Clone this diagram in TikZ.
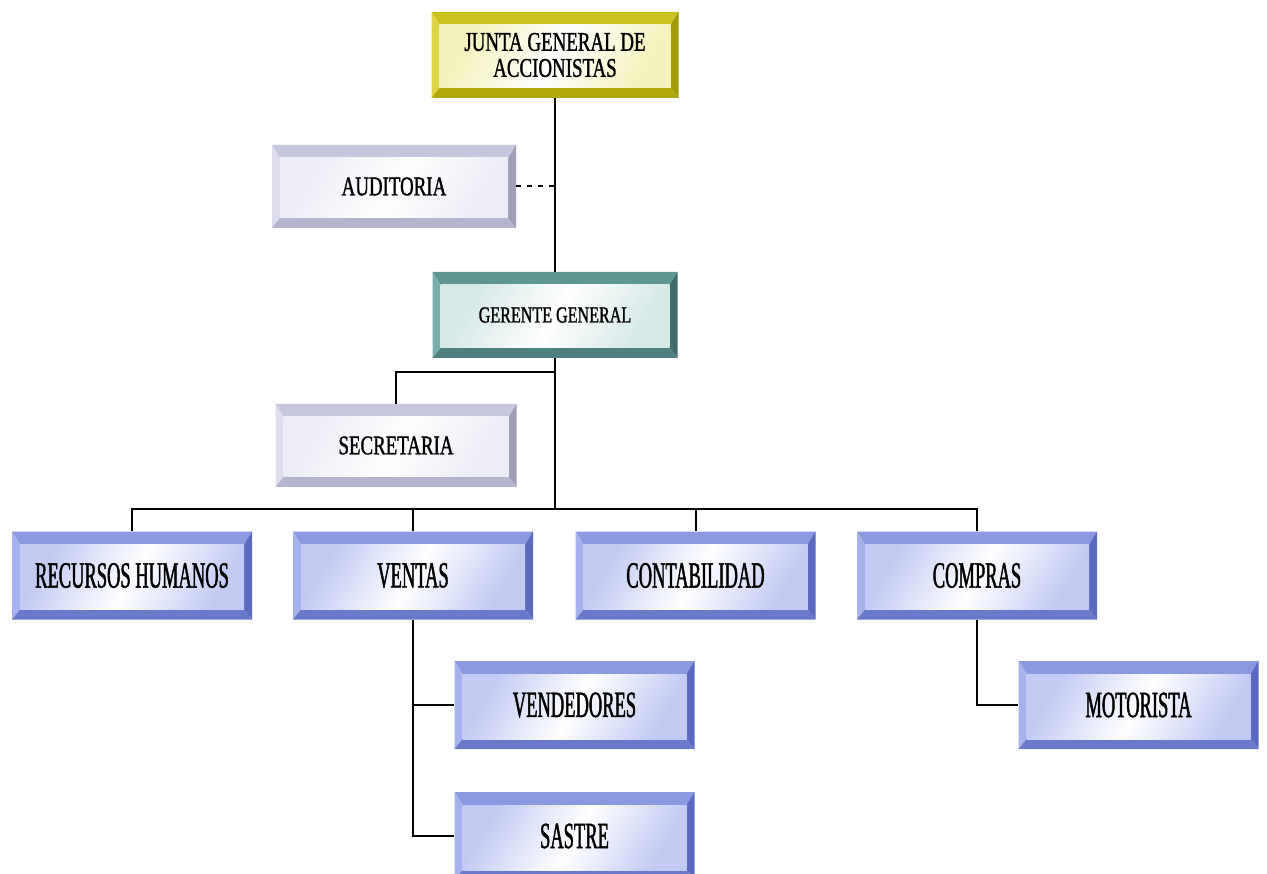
\documentclass[tikz,border=0pt]{standalone}
\usepackage{fontspec}
\usetikzlibrary{calc}
\newfontfamily\upperfont[FakeStretch=0.70, FakeBold=1.2]{Liberation Serif}
\newfontfamily\lowerfont[FakeStretch=0.50, FakeBold=1.2]{Liberation Serif}

% colour sets for the bevelled boxes
\definecolor{yTop}{HTML}{C9C21E}\definecolor{yLeft}{HTML}{DCD548}
\definecolor{yRight}{HTML}{A29A00}\definecolor{yBot}{HTML}{B1A90C}
\definecolor{yIn}{HTML}{F4F2BC}
\definecolor{gTop}{HTML}{C6C6DE}\definecolor{gLeft}{HTML}{DDDDEE}
\definecolor{gRight}{HTML}{9E9EB8}\definecolor{gBot}{HTML}{B4B4CE}
\definecolor{gIn}{HTML}{ECECF6}
\definecolor{tTop}{HTML}{5E9694}\definecolor{tLeft}{HTML}{7AAEAC}
\definecolor{tRight}{HTML}{3E6E6C}\definecolor{tBot}{HTML}{4E8280}
\definecolor{tIn}{HTML}{D4E8E6}
\definecolor{bTop}{HTML}{8A9AE0}\definecolor{bLeft}{HTML}{A6B2EC}
\definecolor{bRight}{HTML}{5A6AC0}\definecolor{bBot}{HTML}{6A7ACA}
\definecolor{bIn}{HTML}{C2CAF4}

\tikzset{
  % bevelled box: #1 = colour prefix (y, g, t, b)
  bevelbox/.style={
    rectangle, inner sep=0pt, align=center, text=black,
    path picture={
      \coordinate (sw) at (path picture bounding box.south west);
      \coordinate (ne) at (path picture bounding box.north east);
      \coordinate (nw) at (sw|-ne);
      \coordinate (se) at (ne|-sw);
      \coordinate (isw) at ($(sw)+(8pt,10pt)$);
      \coordinate (ine) at ($(ne)+(-8pt,-13pt)$);
      \coordinate (inw) at (isw|-ine);
      \coordinate (ise) at (ine|-isw);
      \fill[#1Top] (nw) -- (ne) -- (ine) -- (inw) -- cycle;
      \fill[#1Left] (nw) -- (inw) -- (isw) -- (sw) -- cycle;
      \fill[#1Right] (ne) -- (se) -- (ise) -- (ine) -- cycle;
      \fill[#1Bot] (sw) -- (isw) -- (ise) -- (se) -- cycle;
      \shade[left color=#1In, right color=#1In, middle color=white, shading angle=60]
        (isw) rectangle (ine);
    }},
  upperbox/.style={bevelbox=#1, font=\upperfont\fontsize{27}{30}\selectfont},
  lowerbox/.style={bevelbox=b, minimum width=240pt, minimum height=88pt,
    font=\lowerfont\fontsize{37}{40}\selectfont},
  link/.style={line width=2pt, black},
  dotlink/.style={line width=2pt, black, dash pattern=on 5pt off 6pt},
}

\begin{document}
\begin{tikzpicture}[x=1pt, y=-1pt]
  \useasboundingbox (0,0) rectangle (1267,874);
  \fill[white] (0,0) rectangle (1267,874);
  \clip (0,0) rectangle (1267,874);

  % top levels
  \node[upperbox=y, minimum width=247pt, minimum height=86pt] (junta) at (555,55)
    {JUNTA GENERAL DE\\[-4pt]ACCIONISTAS};
  \node[upperbox=g, minimum width=244pt, minimum height=83pt] (auditoria) at (394,186.5)
    {AUDITORIA};
  \node[upperbox=t, minimum width=245pt, minimum height=86pt,
        font=\upperfont\fontsize{23}{26}\selectfont] (gerente) at (555,315)
    {GERENTE GENERAL};
  \node[upperbox=g, minimum width=241pt, minimum height=83pt] (secretaria) at (396,445.5)
    {SECRETARIA};

  % departments
  \node[lowerbox] (rrhh) at (132,575.5) {RECURSOS HUMANOS};
  \node[lowerbox] (ventas) at (413,575.5) {VENTAS};
  \node[lowerbox] (contab) at (695.5,575.5) {CONTABILIDAD};
  \node[lowerbox] (compras) at (977,575.5) {COMPRAS};

  % sections
  \node[lowerbox] (vendedores) at (574.5,705) {VENDEDORES};
  \node[lowerbox] (sastre) at (574.5,836) {SASTRE};
  \node[lowerbox] (motorista) at (1138.5,705) {MOTORISTA};

  % connectors
  \coordinate (bus) at (555,509);
  \coordinate (sec) at (555,372);
  \draw[link] (junta.south) -- (gerente.north);
  \draw[dotlink] (auditoria.east) -- (auditoria.east -| junta.south);
  \draw[link] (gerente.south) -- (bus);
  \draw[link] (sec) -| (secretaria.north);
  \draw[link] (rrhh.north) |- (compras.north |- bus) -- (compras.north);
  \draw[link] (ventas.north) -- (ventas.north |- bus);
  \draw[link] (contab.north) -- (contab.north |- bus);
  \draw[link] (ventas.south) |- (sastre.west);
  \draw[link] (ventas.south |- vendedores.west) -- (vendedores.west);
  \draw[link] (compras.south) |- (motorista.west);
\end{tikzpicture}
\end{document}
